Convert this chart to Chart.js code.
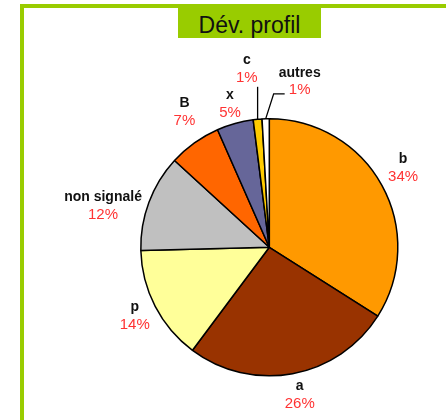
<!DOCTYPE html>
<html>
<head>
<meta charset="utf-8">
<script src="https://cdn.jsdelivr.net/npm/chart.js@4/dist/chart.umd.min.js"></script>
<style>
  html, body { margin:0; padding:0; background:#fff; overflow:hidden; width:446px; height:420px; }
  #frame { position:absolute; left:20px; top:4px; width:600px; height:600px; border:4px solid #99CC00; box-sizing:border-box; }
  #title { position:absolute; left:178px; top:7px; width:143px; height:31px; background:#99CC00;
           font-family:"Liberation Sans", Arial, sans-serif; font-size:23px; line-height:36px;
           text-align:center; color:#111; z-index:2; overflow:visible; }
  #c { position:absolute; left:0; top:0; z-index:1; }
</style>
</head>
<body>
<div id="frame"></div>
<div id="title">Dév. profil</div>
<canvas id="c" width="446" height="420"></canvas>
<script>
// ---- data ----
const categories = ["b", "a", "p", "non signalé", "B", "x", "c", "autres"];
const values     = [34.0, 26.2, 14.4, 12.2, 6.6, 4.6, 1.1, 0.9];
const colors     = ["#FF9900", "#993300", "#FFFF99", "#C0C0C0", "#FF6600", "#666699", "#FFCC00", "#FFFFFF"];

const total = values.reduce((a, b) => a + b, 0);

const labelPlugin = {
  id: 'sliceLabels',
  afterDatasetsDraw(chart, args, opts) {
    const ctx = chart.ctx;
    const meta = chart.getDatasetMeta(0);
    const nameFont = 'bold 14px "Liberation Sans", Arial, sans-serif';
    const pctFont = '15px "Liberation Sans", Arial, sans-serif';
    const lineGap = 17.5;
    ctx.save();
    ctx.textAlign = 'center';
    ctx.textBaseline = 'middle';
    meta.data.forEach((arc, i) => {
      const p = arc.getProps(['x', 'y', 'startAngle', 'endAngle', 'outerRadius'], true);
      const mid = (p.startAngle + p.endAngle) / 2;
      const ux = Math.cos(mid), uy = Math.sin(mid);
      const name = chart.data.labels[i];
      const pct = Math.round(values[i] / total * 100) + '%';
      ctx.font = nameFont;
      const wn = ctx.measureText(name).width;
      ctx.font = pctFont;
      const wp = ctx.measureText(pct).width;
      const w = Math.max(wn, wp);
      const h = lineGap * 2;
      let cx, cy;
      const lead = opts.leaders[i];
      if (lead) {
        const x0 = p.x + ux * p.outerRadius;
        const y0 = p.y + uy * p.outerRadius;
        const ey = p.y - p.outerRadius - lead.rise;
        const ex = x0 + lead.dx;
        const hx = ex + lead.run;
        ctx.strokeStyle = '#000';
        ctx.lineWidth = 1.3;
        ctx.beginPath();
        ctx.moveTo(x0, y0);
        ctx.lineTo(ex, ey);
        if (lead.run) ctx.lineTo(hx, ey);
        ctx.stroke();
        if (lead.run) { cx = hx + 15; cy = ey - 3.5 - lineGap / 2; }
        else { cx = ex - wp / 2; cy = ey - 8.7 - lineGap / 2; }
      } else {
        const ax = p.x + ux * (p.outerRadius + opts.gap);
        const ay = p.y + uy * (p.outerRadius + opts.gap);
        const n = opts.nudge[i] || [0, 0];
        cx = ax + ux * w / 2 + n[0];
        cy = ay + uy * h / 2 + n[1];
      }
      ctx.fillStyle = '#111';
      ctx.font = nameFont;
      ctx.fillText(name, cx, cy - lineGap / 2);
      ctx.fillStyle = '#FF3333';
      ctx.font = pctFont;
      ctx.fillText(pct, cx, cy + lineGap / 2);
    });
    ctx.restore();
  }
};

new Chart(document.getElementById('c'), {
  type: 'pie',
  data: {
    labels: categories,
    datasets: [{
      data: values,
      backgroundColor: colors,
      borderColor: '#000',
      borderWidth: 1.5
    }]
  },
  options: {
    responsive: false,
    animation: false,
    radius: 128.5,
    layout: { padding: { left: 140, right: 47.4, top: 118, bottom: 43.4 } },
    plugins: {
      legend: { display: false },
      tooltip: { enabled: false },
      title: { display: false },
      sliceLabels: {
        gap: 8,
        nudge: { 0: [1, -5], 1: [3, -4], 2: [0, -2], 3: [-2, 13], 4: [1, -10], 5: [0, 5] },
        leaders: { 6: { rise: 32, dx: 0, run: 0 }, 7: { rise: 25, dx: 8, run: 11 } }
      }
    }
  },
  plugins: [labelPlugin]
});
</script>
</body>
</html>
